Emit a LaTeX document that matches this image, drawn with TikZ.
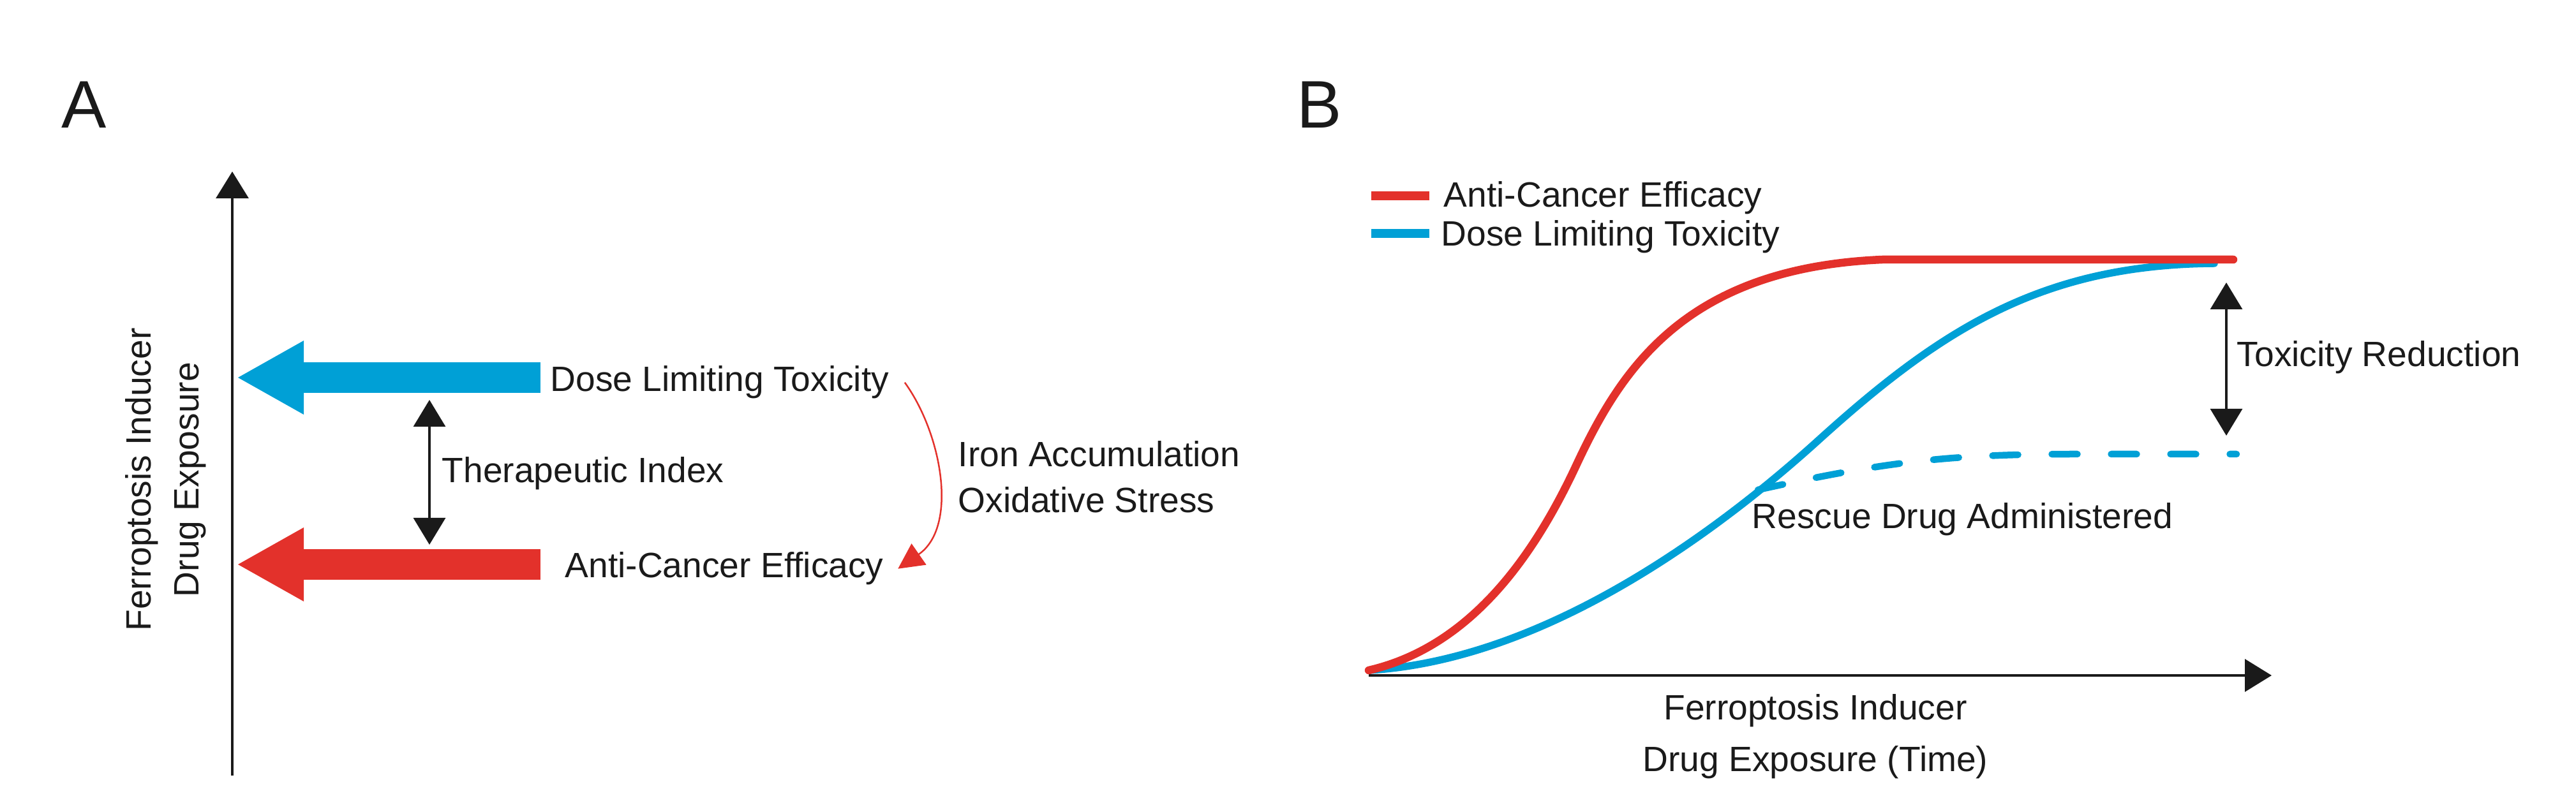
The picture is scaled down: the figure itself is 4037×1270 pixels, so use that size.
\documentclass[tikz,border=0pt]{standalone}
\usepackage{fontspec}
\setmainfont{Liberation Sans}
\usepackage{tikz}
\usepackage{xcolor}
\usetikzlibrary{positioning, arrows.meta}
\definecolor{effred}{RGB}{227, 49, 43}
\definecolor{toxblue}{RGB}{0, 160, 214}
\definecolor{inkblack}{RGB}{26, 26, 26}
\tikzset{
    lbl/.style={inner sep=0pt, anchor=base west, text=inkblack, font=\fontsize{15.7}{21}\selectfont},
    panellbl/.style={inner sep=0pt, anchor=base west, text=inkblack, font=\fontsize{30}{36}\selectfont},
    axisline/.style={draw=inkblack, line width=0.33mm, -{Triangle[length=4.2mm, width=5.1mm]}},
    gapline/.style={draw=inkblack, line width=0.33mm, {Triangle[length=4.2mm, width=5mm]}-{Triangle[length=4.2mm, width=5mm]}},
    bigarrow/.style={line width=4.8mm, -{Triangle[length=10.3mm, width=11.6mm, line width=0pt]}},
    ironarrow/.style={draw=effred, line width=0.25mm, -{Triangle[length=4mm, width=4mm]}},
    effcurve/.style={draw=effred, line width=1.25mm, line cap=round},
    toxcurve/.style={draw=toxblue, line width=1.15mm, line cap=round},
    rescuecurve/.style={draw=toxblue, line width=1.05mm, line cap=round, dash pattern=on 4mm off 5.3mm},
    legkey/.style={line width=1.4mm}
}

\begin{document}
\begin{tikzpicture}[x=0.1mm, y=-0.1mm]
                \useasboundingbox (0,0) rectangle (4037,1270);
                % panel A
                \node[panellbl] (labA) at (96,201) {A};
                \coordinate (yaxbot) at (364,1216);
                \coordinate (yaxtop) at (364,269);
                \draw[axisline] (yaxbot) -- (yaxtop);
                \node[lbl, rotate=90, anchor=center, align=center, font=\fontsize{15.7}{21.3}\selectfont] (ylab) at (260,752) {Ferroptosis Inducer\\Drug Exposure};
                \coordinate (toxtail) at (847,592);
                \coordinate (toxtip) at (373,592);
                \coordinate (efftail) at (847,885);
                \coordinate (efftip) at (373,885);
                \draw[bigarrow, toxblue] (toxtail) -- (toxtip);
                \draw[bigarrow, effred] (efftail) -- (efftip);
                \node[lbl] (doseA) at (862,614) {Dose Limiting Toxicity};
                \node[lbl] (effA) at (885,906) {Anti-Cancer Efficacy};
                \coordinate (tiup) at (673,627);
                \coordinate (tidown) at (673,854);
                \draw[gapline] (tiup) -- (tidown);
                \node[lbl] (tindex) at (692,757) {Therapeutic Index};
                \draw[ironarrow] ([xshift=2.4mm]doseA.east) .. controls +(58,80) and +(95,-66) .. ([xshift=2.2mm]effA.east);
                \node[lbl, anchor=north west, align=left, font=\fontsize{15.7}{20.5}\selectfont] (ironA) at (1501,691) {Iron Accumulation\\Oxidative Stress};
                % panel B
                \node[panellbl] (labB) at (2032,201) {B};
                \node[lbl] (legeff) at (2262,325) {Anti-Cancer Efficacy};
                \node[lbl] (legtox) at (2258,386) {Dose Limiting Toxicity};
                \draw[legkey, effred] ([xshift=-2.2mm, yshift=0.4mm]legeff.west) -- ++(-91,0);
                \draw[legkey, toxblue] ([xshift=-1.8mm, yshift=0.55mm]legtox.west) -- ++(-91,0);
                \coordinate (origin) at (2145,1059);
                \coordinate (xaxtip) at (3560,1059);
                \draw[axisline] (origin) -- (xaxtip);
                \node[lbl, anchor=north, align=center, font=\fontsize{15.7}{23}\selectfont] (xlab) at (2845,1088) {Ferroptosis Inducer\\Drug Exposure (Time)};
                \coordinate (cstart) at (2145,1051);
                \coordinate (toxend) at (3470,413);
                \coordinate (plateau) at (3500,407);
                \coordinate (rescue) at (2755,768);
                \coordinate (rescueend) at (3505,712);
                \draw[toxcurve] (cstart) .. controls (2420,1035) and (2690,835) .. (2850,690)
                    .. controls (3042,516) and (3200,415) .. (toxend);
                \draw[rescuecurve] (rescue) .. controls (2950,725) and (3050,712) .. (3250,712) -- (rescueend);
                \draw[effcurve] (cstart) .. controls (2300,1015) and (2400,880) .. (2470,730)
                    .. controls (2540,580) and (2640,420) .. (2950,407) -- (plateau);
                \node[lbl] (rescuelbl) at (2745,829) {Rescue Drug Administered};
                \coordinate (redtop) at (3489,443);
                \coordinate (redbot) at (3489,683);
                \draw[gapline] (redtop) -- (redbot);
                \node[lbl] (toxred) at (3505,575) {Toxicity Reduction};
            \end{tikzpicture}
\end{document}
